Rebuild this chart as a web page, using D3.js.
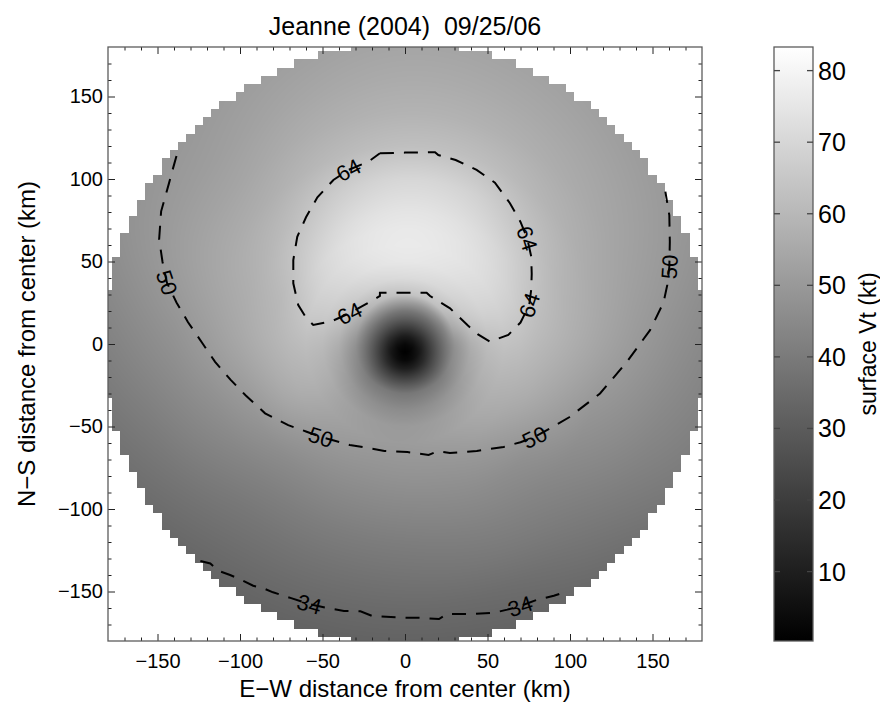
<!DOCTYPE html>
<html>
<head>
<meta charset="utf-8">
<script src="https://cdn.jsdelivr.net/npm/d3@7"></script>
<style>
  html, body { margin: 0; padding: 0; background: #fff; }
  svg text { font-family: "Liberation Sans", Arial, Helvetica, sans-serif; fill: #000; }
</style>
</head>
<body>
<svg id="chart" width="880" height="703"></svg>
<script>
// ---- Surface tangential wind (kt), sampled on a storm-centred polar grid ----
const azimuthsDeg = [0, 22.5, 45, 67.5, 90, 112.5, 135, 157.5, 180, 202.5, 225, 247.5, 270, 292.5, 315, 337.5];
const radiiKm = [0, 5, 10, 15, 20, 25, 30, 40, 50, 60, 70, 80, 100, 120, 140, 160, 180, 200];
const vtProfiles = [
  [3, 5.9, 12.4, 21.6, 31, 39.9, 48, 57.5, 62, 63.5, 62.5, 60.5, 57, 53.5, 50.3, 47.5, 45, 43],        // E
  [3, 7.6, 15.4, 25.2, 34.5, 43.7, 56, 65, 68.5, 69, 67.5, 64.5, 59.5, 56, 53.5, 51.5, 49.5, 48],
  [3, 8.9, 18.2, 27.8, 37, 48, 62, 69, 72, 73, 72, 70, 64, 59, 56, 54, 52, 50.5],
  [3, 9.7, 19.4, 29.4, 38.5, 50, 63.5, 71, 74.5, 75.5, 75, 73.5, 68.8, 62, 58, 55.5, 53.5, 52],
  [3, 10, 20, 30, 39, 51, 63.5, 71.5, 75.5, 76.5, 76, 74.5, 70, 62.5, 58.5, 56, 54, 52.5],              // N
  [3, 9.7, 19.4, 29.4, 38.5, 50, 62, 70, 74, 75, 74.5, 72.5, 67, 60.5, 57, 54.5, 52.5, 51],
  [3, 8.9, 18.2, 27.8, 37, 47.5, 59, 67, 70.5, 71.5, 70.5, 67.5, 61.5, 57, 54, 51.8, 50.2, 49],
  [3, 7.6, 15.4, 25.2, 34.5, 43.7, 54, 63, 66.5, 67, 64, 61, 57.5, 55, 52.5, 50.1, 48, 46],
  [3, 5.9, 12.4, 21.6, 31, 39.9, 48, 57, 61, 62, 60.5, 58.5, 54.5, 50.8, 47.5, 45, 42.5, 40.5],         // W
  [3, 3.8, 9, 17.8, 27.2, 36.1, 44, 52.5, 57, 58, 57, 55, 49.6, 46, 43, 40, 37.5, 35.5],
  [3, 2.3, 6.4, 13.8, 23.2, 32.2, 40.5, 48.5, 53, 53.5, 52, 49.8, 45.5, 42, 39, 36.5, 34, 32],
  [3, 1.2, 4, 11, 20.8, 30.2, 39.7, 46.5, 51, 51.5, 49.7, 48, 44.5, 41, 38, 35.3, 32.8, 30.5],
  [3, 0.5, 3, 10, 20, 30, 39, 46, 50.5, 51, 49.5, 48, 44.5, 41, 38, 35, 32.5, 30.5],                     // S
  [3, 1.2, 4, 11, 20.8, 30.2, 39.7, 47, 51.5, 52.5, 50.5, 48.8, 45.5, 42.3, 39.3, 35.8, 33.2, 31],
  [3, 2.3, 6.4, 13.8, 23.2, 32.2, 41, 49.5, 54, 55.5, 54, 51.5, 47, 44, 41.5, 39, 36.5, 34],
  [3, 3.8, 9, 17.8, 27.2, 36.1, 45, 53.5, 58, 59, 58, 56.5, 52.3, 48.3, 46, 43.5, 41.5, 39.5]
];
const gridCellKm = 5;          // analysis grid spacing
const coverageRadiusKm = 183;  // data coverage radius
const vtRange = [0.3, 83.3];   // colour bar range (kt)
const colorbarTicks = [10, 20, 30, 40, 50, 60, 70, 80];
const axisTicks = [-150, -100, -50, 0, 50, 100, 150];
const axisDomain = [-180, 180];

// ---- Labelled contours (x, y in km) ----
const contour64 = [
  [-15.2,115.6],[0,116],[18.2,116.2],[20.2,114.5],[30.7,111.5],[43.4,105.5],[54.5,97.8],[63.6,85.3],
  [70,74],[74.1,64],[76.5,53],[76.8,42.4],[76.5,33],[75.3,23.6],[70,13],[62.6,5.5],[51.5,1.4],[44,6],
  [37.8,11.5],[27.3,21.6],[15.2,29.1],[13.1,31.1],[0,31.1],[-15.2,31.1],[-15.2,29.1],[-24,24],
  [-33.7,18.6],[-44,14],[-55.6,11.5],[-60,16],[-64.7,23.6],[-67.7,36.8],[-67.7,50.9],[-65.3,65],
  [-60,76.8],[-53.1,88.9],[-43.4,99.4],[-34.3,105.5],[-22.2,110.5],[-15.2,115.6]
];
const contour50 = [
  [-138.5,114],[-141,105],[-143.1,97.2],[-147.8,80.4],[-149,63.6],[-147,50],[-144.3,37.2],[-138.5,25.2],
  [-131.5,13.2],[-123.3,1.2],[-115.1,-10.8],[-105.8,-21.6],[-96.5,-31.2],[-84.8,-42],[-70.8,-49.2],
  [-60,-53],[-51,-56.4],[-42,-58.8],[-33.5,-61.2],[-22,-63],[-12.5,-64.8],[1.5,-65.5],[14.3,-67.2],
  [20,-65],[27.2,-66],[35,-65.5],[43.5,-64.8],[59.8,-62.4],[70,-59.5],[78.5,-56.4],[90,-50],
  [99.5,-44.4],[118.2,-30],[134.5,-10.8],[148.5,8.4],[156.7,25.2],[159,36],[160.2,46.8],[160.5,62],
  [160.2,78],[157.8,92.4]
];
const contour34 = [
  [-124,-131.5],[-118,-133],[-113,-137.5],[-106,-140],[-99,-143],[-92,-146.5],[-86,-148],[-80,-150.5],
  [-69,-154],[-58,-157.6],[-47,-160],[-37,-161.8],[-27,-162],[-20,-164.8],[-3.3,-165.8],[10,-166],
  [20.6,-166.7],[25.5,-163.6],[42.2,-163.6],[54.2,-162.8],[62,-161],[69.8,-158.8],[80,-155],
  [90.2,-152.6],[95,-151]
];
const contours = [
  { level: 64, points: contour64, labelAt: [9, 13, 26, 37] },
  { level: 50, points: contour50, labelAt: [6, 16, 29, 37] },
  { level: 34, points: contour34, labelAt: [9, 21] }
];

// ---- Layout ----
const plot = { left: 108, right: 702, top: 47, bottom: 641 };
const bar = { left: 774, right: 813 };
const svg = d3.select("#chart");

const x = d3.scaleLinear().domain(axisDomain).range([plot.left, plot.right]);
const y = d3.scaleLinear().domain(axisDomain).range([plot.bottom, plot.top]);
const gray = d3.scaleLinear().domain(vtRange).range([0, 255]).clamp(true);

// ---- Field evaluation: linear in radius, Catmull-Rom in azimuth ----
function radial(profile, r) {
  if (r >= radiiKm[radiiKm.length - 1]) return profile[profile.length - 1];
  const i = Math.max(0, d3.bisectRight(radiiKm, r) - 1);
  const t = (r - radiiKm[i]) / (radiiKm[i + 1] - radiiKm[i]);
  return profile[i] + t * (profile[i + 1] - profile[i]);
}
function vtAt(kx, ky) {
  const r = Math.hypot(kx, ky);
  let az = Math.atan2(ky, kx) * 180 / Math.PI;
  if (az < 0) az += 360;
  const n = azimuthsDeg.length, step = 360 / n;
  const t = az / step, i = Math.floor(t), f = t - i;
  const p = [-1, 0, 1, 2].map(k => radial(vtProfiles[((i + k) % n + n) % n], r));
  return 0.5 * (2 * p[1] + (-p[0] + p[2]) * f + (2 * p[0] - 5 * p[1] + 4 * p[2] - p[3]) * f * f
    + (-p[0] + 3 * p[1] - 3 * p[2] + p[3]) * f * f * f);
}

// ---- Raster image of the field ----
const W = plot.right - plot.left, H = plot.bottom - plot.top;
const canvas = document.createElement("canvas");
canvas.width = W; canvas.height = H;
const ctx = canvas.getContext("2d");
const img = ctx.createImageData(W, H);
for (let j = 0; j < H; j++) {
  const ky = y.invert(plot.top + j + 0.5);
  const cy = Math.round(ky / gridCellKm) * gridCellKm;
  for (let i = 0; i < W; i++) {
    const kx = x.invert(plot.left + i + 0.5);
    const cx = Math.round(kx / gridCellKm) * gridCellKm;
    const o = (j * W + i) * 4;
    if (Math.hypot(cx, cy) > coverageRadiusKm) { img.data[o + 3] = 0; continue; }
    const g = Math.round(gray(vtAt(kx, ky)));
    img.data[o] = g; img.data[o + 1] = g; img.data[o + 2] = g; img.data[o + 3] = 255;
  }
}
ctx.putImageData(img, 0, 0);
svg.append("image")
  .attr("x", plot.left).attr("y", plot.top)
  .attr("width", W).attr("height", H)
  .attr("href", canvas.toDataURL());

// ---- Contours ----
const line = d3.line().x(d => x(d[0])).y(d => y(d[1]));
const cg = svg.append("g");
contours.forEach(c => {
  cg.append("path")
    .attr("d", line(c.points))
    .attr("fill", "none")
    .attr("stroke", "#000")
    .attr("stroke-width", 2)
    .attr("stroke-dasharray", "14,10");
  c.labelAt.forEach(k => {
    const a = c.points[Math.max(0, k - 1)], b = c.points[Math.min(c.points.length - 1, k + 1)];
    let ang = Math.atan2(y(b[1]) - y(a[1]), x(b[0]) - x(a[0])) * 180 / Math.PI;
    if (ang > 90) ang -= 180;
    if (ang <= -90) ang += 180;
    const px = x(c.points[k][0]), py = y(c.points[k][1]);
    cg.append("text")
      .attr("transform", `translate(${px},${py}) rotate(${ang})`)
      .attr("text-anchor", "middle")
      .attr("dy", "0.36em")
      .style("font-size", "22px")
      .text(c.level);
  });
});

// ---- Axes: inward major and minor ticks on all four sides ----
const minorTicks = d3.range(-170, 171, 10).filter(v => v % 50 !== 0);
function styleAxis(g) {
  g.select(".domain").remove();
  g.selectAll(".tick line").attr("stroke", "#222").attr("stroke-width", 1);
  g.selectAll(".tick text").style("font-size", "20px").attr("fill", "#000");
}
const majorLen = 7, minorLen = 3.5;
svg.append("g").attr("transform", `translate(0,${plot.bottom})`)
  .call(d3.axisBottom(x).tickValues(axisTicks).tickSize(-majorLen).tickPadding(13)).call(styleAxis);
svg.append("g").attr("transform", `translate(0,${plot.bottom})`)
  .call(d3.axisBottom(x).tickValues(minorTicks).tickSize(-minorLen).tickFormat("")).call(styleAxis);
svg.append("g").attr("transform", `translate(0,${plot.top})`)
  .call(d3.axisTop(x).tickValues(axisTicks).tickSize(-majorLen).tickFormat("")).call(styleAxis);
svg.append("g").attr("transform", `translate(0,${plot.top})`)
  .call(d3.axisTop(x).tickValues(minorTicks).tickSize(-minorLen).tickFormat("")).call(styleAxis);
svg.append("g").attr("transform", `translate(${plot.left},0)`)
  .call(d3.axisLeft(y).tickValues(axisTicks).tickSize(-majorLen).tickPadding(5)).call(styleAxis);
svg.append("g").attr("transform", `translate(${plot.left},0)`)
  .call(d3.axisLeft(y).tickValues(minorTicks).tickSize(-minorLen).tickFormat("")).call(styleAxis);
svg.append("g").attr("transform", `translate(${plot.right},0)`)
  .call(d3.axisRight(y).tickValues(axisTicks).tickSize(-majorLen).tickFormat("")).call(styleAxis);
svg.append("g").attr("transform", `translate(${plot.right},0)`)
  .call(d3.axisRight(y).tickValues(minorTicks).tickSize(-minorLen).tickFormat("")).call(styleAxis);

svg.append("rect")
  .attr("x", plot.left).attr("y", plot.top).attr("width", W).attr("height", H)
  .attr("fill", "none").attr("stroke", "#5c5c5c").attr("stroke-width", 1.3);

// ---- Titles ----
svg.append("text")
  .attr("x", x(0)).attr("y", 35).attr("text-anchor", "middle")
  .style("font-size", "25px").style("white-space", "pre")
  .text("Jeanne (2004)  09/25/06");
svg.append("text")
  .attr("x", x(0)).attr("y", 697).attr("text-anchor", "middle")
  .style("font-size", "24px")
  .text("E\u2212W distance from center (km)");
svg.append("text")
  .attr("transform", `translate(35,${y(0)}) rotate(-90)`).attr("text-anchor", "middle")
  .style("font-size", "24px")
  .text("N\u2212S distance from center (km)");

// ---- Colour bar ----
const cb = d3.scaleLinear().domain(vtRange).range([plot.bottom, plot.top]);
const grad = svg.append("defs").append("linearGradient")
  .attr("id", "vtGrad").attr("x1", 0).attr("y1", 1).attr("x2", 0).attr("y2", 0);
d3.range(0, 1.0001, 0.1).forEach(t => {
  const v = vtRange[0] + t * (vtRange[1] - vtRange[0]);
  const g = Math.round(gray(v));
  grad.append("stop").attr("offset", t).attr("stop-color", `rgb(${g},${g},${g})`);
});
svg.append("rect")
  .attr("x", bar.left).attr("y", plot.top)
  .attr("width", bar.right - bar.left).attr("height", H)
  .attr("fill", "url(#vtGrad)").attr("stroke", "#5c5c5c").attr("stroke-width", 1.3);
const cbTicks = svg.append("g");
colorbarTicks.forEach(v => {
  cbTicks.append("line").attr("x1", bar.left).attr("x2", bar.left + 6)
    .attr("y1", cb(v)).attr("y2", cb(v)).attr("stroke", "#444").attr("stroke-width", 1.3);
  cbTicks.append("line").attr("x1", bar.right - 6).attr("x2", bar.right)
    .attr("y1", cb(v)).attr("y2", cb(v)).attr("stroke", "#444").attr("stroke-width", 1.3);
  cbTicks.append("text").attr("x", bar.right + 5).attr("y", cb(v)).attr("dy", "0.36em")
    .style("font-size", "25px").text(v);
});
svg.append("text")
  .attr("transform", `translate(876,${y(0)}) rotate(-90)`).attr("text-anchor", "middle")
  .style("font-size", "23px")
  .text("surface Vt (kt)");
</script>
</body>
</html>
